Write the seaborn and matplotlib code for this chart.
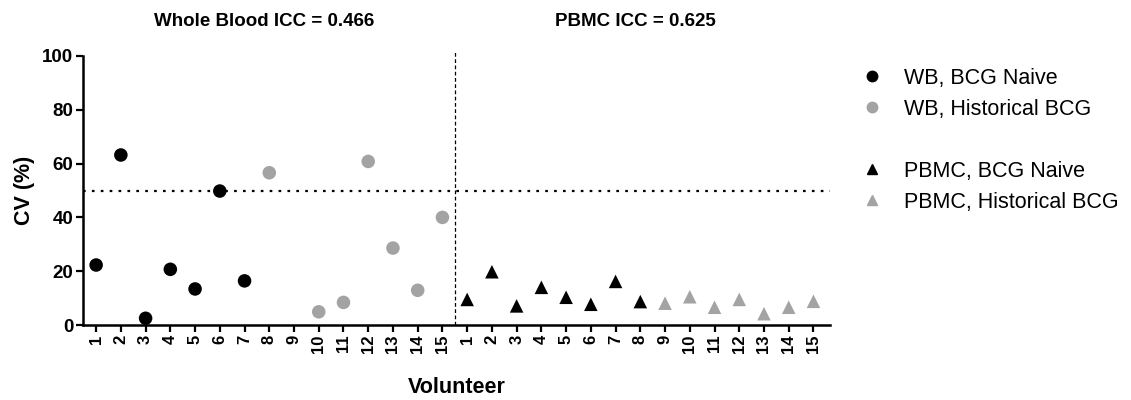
import numpy as np
import pandas as pd
import matplotlib
matplotlib.use("Agg")
import matplotlib.pyplot as plt
from matplotlib.lines import Line2D
import seaborn as sns

# Coefficient of variation (%) per volunteer, by sample type and BCG history
volunteers = list(range(1, 16))
wb_naive = [22.3, 63.2, 2.5, 20.7, 13.4, 49.8, 16.4]             # volunteers 1-7
wb_hist = [56.6, np.nan, 4.9, 8.4, 60.8, 28.6, 12.9, 40.0]      # volunteers 8-15
pbmc_naive = [9.5, 19.8, 7.1, 14.0, 10.3, 7.7, 16.2, 8.7]       # volunteers 1-8
pbmc_hist = [8.1, 10.5, 6.6, 9.5, 4.2, 6.6, 8.8]                # volunteers 9-15

groups = ["WB, BCG Naive", "WB, Historical BCG",
          "PBMC, BCG Naive", "PBMC, Historical BCG"]
titles = ["Whole Blood ICC = 0.466", "PBMC ICC = 0.625"]
threshold = 50

wb_vals = wb_naive + wb_hist
pbmc_vals = pbmc_naive + pbmc_hist
df = pd.DataFrame({
    "pos": list(range(1, 31)),
    "volunteer": volunteers + volunteers,
    "cv": wb_vals + pbmc_vals,
    "group": [groups[0]] * len(wb_naive) + [groups[1]] * len(wb_hist)
             + [groups[2]] * len(pbmc_naive) + [groups[3]] * len(pbmc_hist),
}).dropna()

black, grey = "#000000", "#a3a3a3"
palette = {groups[0]: black, groups[1]: grey, groups[2]: black, groups[3]: grey}
markers = {groups[0]: "o", groups[1]: "o", groups[2]: "^", groups[3]: "^"}

sns.set_style("ticks")
plt.rcParams["font.family"] = ["Liberation Sans", "DejaVu Sans"]
plt.rcParams["text.color"] = "black"
plt.rcParams["axes.labelcolor"] = "black"
plt.rcParams["axes.edgecolor"] = "black"

fig = plt.figure(figsize=(11.31, 4.0), dpi=100)
ax = fig.add_axes([0.0734, 0.1875, 0.6605, 0.6725])

sns.scatterplot(data=df, x="pos", y="cv", hue="group", style="group",
                palette=palette, markers=markers, s=95, linewidth=0,
                legend=False, ax=ax, clip_on=False, zorder=3)

ax.set_xlim(0.47, 30.67)
ax.set_ylim(0, 100)
ax.set_yticks([0, 20, 40, 60, 80, 100])
ax.set_xticks(range(1, 31))
ax.set_xticklabels([str(v) for v in volunteers + volunteers], rotation=90,
                   fontweight="bold", fontsize=12)
for lab in ax.get_yticklabels():
    lab.set_fontweight("bold")
    lab.set_fontsize(13.5)

ax.set_xlabel("Volunteer", fontweight="bold", fontsize=15.5, labelpad=17)
ax.set_ylabel("CV (%)", fontweight="bold", fontsize=15.5, labelpad=5)

sns.despine(ax=ax)
for side in ("left", "bottom"):
    ax.spines[side].set_linewidth(1.8)
    ax.spines[side].set_color("black")
ax.tick_params(axis="both", width=1.6, length=5, pad=2, colors="black")

# 50% threshold and divider between sample types
ax.axhline(threshold, color="black", linestyle=(0, (1.2, 2.8)), linewidth=1.6,
           zorder=1)
ax.plot([15.5, 15.5], [0, 101.6], color="black", linestyle=(0, (3, 2)),
        linewidth=0.9, clip_on=False, zorder=1)

for xc, t in zip([7.8, 22.8], titles):
    ax.text(xc, 1.128, t, transform=ax.get_xaxis_transform(), ha="center",
            va="center", fontweight="bold", fontsize=13.5, color="black")

handles = []
for g in groups[:2]:
    handles.append(Line2D([], [], linestyle="none", marker=markers[g],
                          color=palette[g], markersize=7.5, label=g))
handles.append(Line2D([], [], linestyle="none", label=""))
for g in groups[2:]:
    handles.append(Line2D([], [], linestyle="none", marker=markers[g],
                          color=palette[g], markersize=6.5, label=g))
fig.legend(handles=handles, loc="upper left", bbox_to_anchor=(0.7637, 0.83),
           frameon=False, fontsize=15.5, handlelength=0.8, handletextpad=1.05,
           labelspacing=0.46, borderpad=0, borderaxespad=0, labelcolor="black")

fig.savefig("out.png", dpi=100)
